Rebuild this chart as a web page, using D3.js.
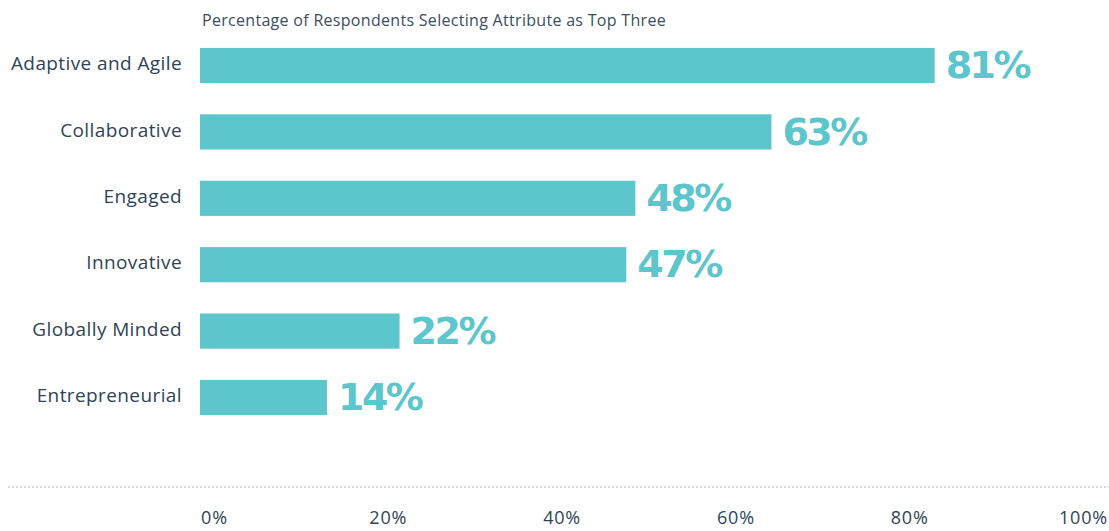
<!DOCTYPE html>
<html>
<head>
<meta charset="utf-8">
<script src="https://cdn.jsdelivr.net/npm/d3@7"></script>
<style>
  body { margin: 0; background: #fff; }
  svg { display: block; }
  .cat { font-family: "Open Sans", sans-serif; font-size: 19px; fill: #2f4356; letter-spacing: 0.4px; }
  .val { font-family: "DejaVu Sans", sans-serif; font-weight: bold; font-size: 38px; fill: #5cc6cc; letter-spacing: -2.5px; }
  .title { font-family: "Open Sans", sans-serif; font-size: 16px; fill: #3b4d5e; letter-spacing: 0.3px; }
  .tick-label { font-family: "Open Sans", sans-serif; font-size: 18px; fill: #2f4356; letter-spacing: 0.8px; }
</style>
</head>
<body>
<div id="chart"></div>
<script>
var categories = ["Adaptive and Agile", "Collaborative", "Engaged", "Innovative", "Globally Minded", "Entrepreneurial"];
var values = [81, 63, 48, 47, 22, 14];
var tickValues = [0, 20, 40, 60, 80, 100];
var titleText = "Percentage of Respondents Selecting Attribute as Top Three";

var width = 1109;
var height = 531;

var svg = d3.select("#chart").append("svg")
    .attr("width", width)
    .attr("height", height);

// bar length scale
var x = d3.scaleLinear()
    .domain([0, 100])
    .range([200, 1107]);

// the printed axis labels sit a bit apart from the bars in the original
var xAxisScale = d3.scaleLinear()
    .domain([0, 100])
    .range([214, 1083]);

var y = d3.scaleBand()
    .domain(categories)
    .range([32, 431])
    .paddingInner(0.47)
    .paddingOuter(0.24);

svg.append("text")
    .attr("class", "title")
    .attr("x", 202)
    .attr("y", 26)
    .text(titleText);

var rows = svg.selectAll(".row")
    .data(categories)
    .enter().append("g")
    .attr("class", "row");

rows.append("rect")
    .attr("x", x(0))
    .attr("y", function(d) { return y(d); })
    .attr("width", function(d, i) { return x(values[i]) - x(0); })
    .attr("height", y.bandwidth())
    .attr("fill", "#5cc6cc");

rows.append("text")
    .attr("class", "cat")
    .attr("x", 182)
    .attr("y", function(d) { return y(d) + y.bandwidth() / 2 - 2; })
    .attr("dy", "0.35em")
    .attr("text-anchor", "end")
    .text(function(d) { return d; });

rows.append("text")
    .attr("class", "val")
    .attr("x", function(d, i) { return x(values[i]) + 11; })
    .attr("y", function(d) { return y(d) + y.bandwidth() / 2 - 1; })
    .attr("dy", "0.36em")
    .text(function(d, i) { return values[i] + "%"; });

// dotted baseline
svg.append("line")
    .attr("x1", 8)
    .attr("x2", width)
    .attr("y1", 487)
    .attr("y2", 487)
    .attr("stroke", "#d5d8db")
    .attr("stroke-width", 2)
    .attr("stroke-dasharray", "2,2");

var axis = d3.axisBottom(xAxisScale)
    .tickValues(tickValues)
    .tickSize(0)
    .tickPadding(0)
    .tickFormat(function(d) { return d + "%"; });

var gx = svg.append("g")
    .attr("transform", "translate(0,511)")
    .call(axis);
gx.select(".domain").remove();
gx.selectAll("text")
    .attr("class", "tick-label")
    .attr("font-size", null)
    .attr("font-family", null)
    .attr("fill", null)
    .attr("dy", "0.71em");
</script>
</body>
</html>
